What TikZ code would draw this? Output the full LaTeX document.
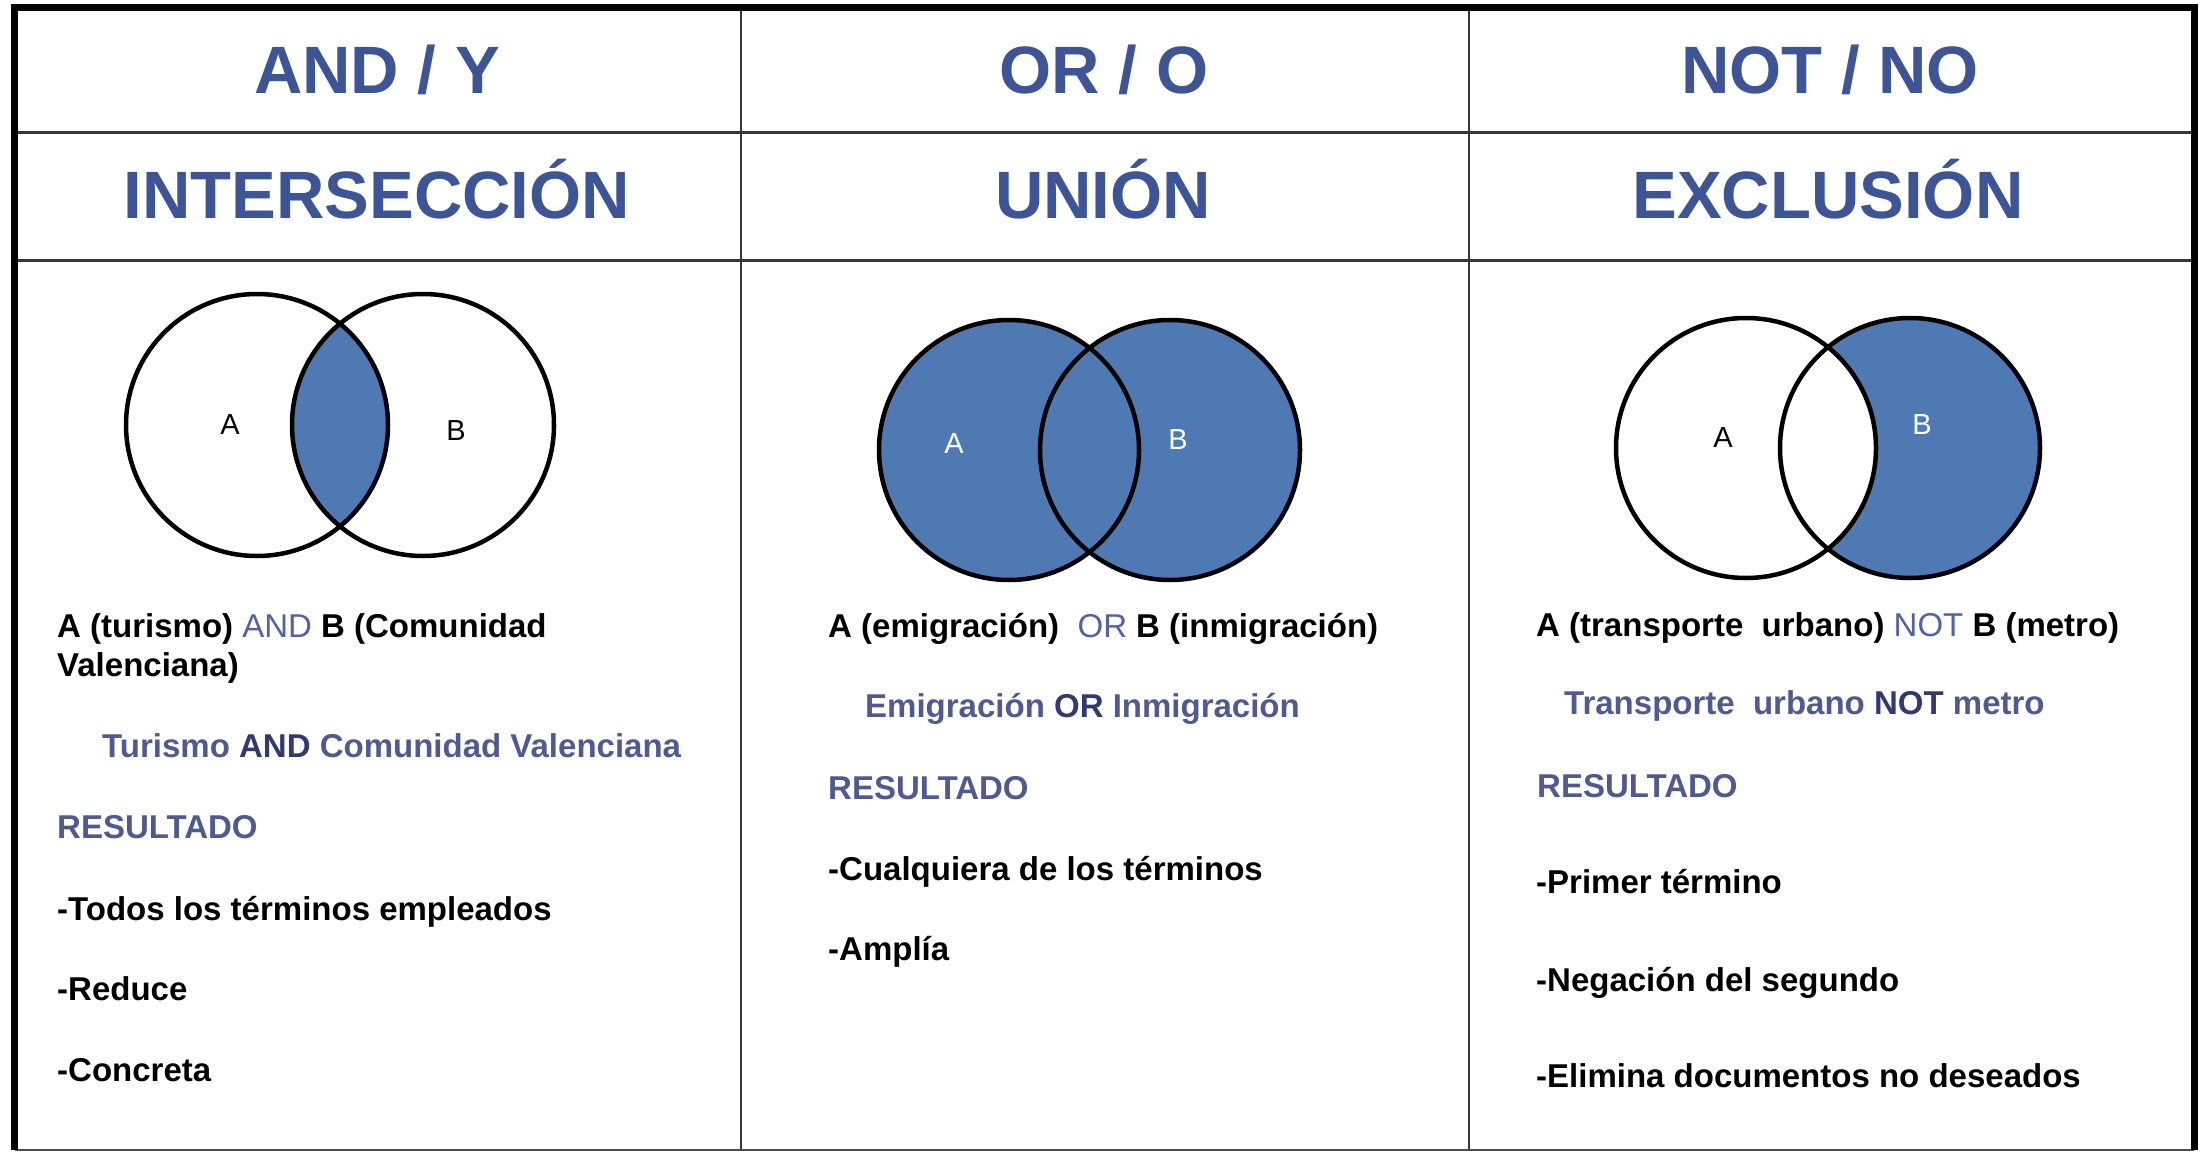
\documentclass[tikz,border=0pt]{standalone}
\usepackage{fontspec}
\setmainfont{Liberation Sans}
\definecolor{headblue}{RGB}{61,84,150}
\definecolor{fillblue}{RGB}{78,121,178}
\definecolor{txtblue}{RGB}{78,90,145}
\definecolor{opblue}{RGB}{82,98,168}
\definecolor{darkop}{RGB}{48,58,112}
\definecolor{rulegray}{RGB}{55,55,55}
\tikzset{
  frameline/.style={line width=7pt, line join=miter, black},
  bottomline/.style={line width=2pt, black!70},
  divline/.style={line width=2.5pt, rulegray},
  rowline/.style={line width=3pt, rulegray},
  headtxt/.style={anchor=base, inner sep=0pt, text=headblue, font=\fontsize{67}{80}\selectfont\bfseries},
  bodytxt/.style={anchor=base west, inner sep=0pt, font=\fontsize{33}{40}\selectfont\bfseries},
  venn/.style={line width=4.5pt, black},
  vennlbl/.style={inner sep=0pt, font=\fontsize{29}{34}\selectfont},
}
\begin{document}
\begin{tikzpicture}[x=1pt,y=-1pt]
\useasboundingbox (0,0) rectangle (2204,1153);
\fill[white] (0,0) rectangle (2204,1153);

% frame and grid
\coordinate (tl) at (14.5,8);
\coordinate (tr) at (2194,8);
\coordinate (bl) at (14.5,1150);
\coordinate (br) at (2194,1150);
\coordinate (d1t) at (741,8);
\coordinate (d1b) at (741,1150);
\coordinate (d2t) at (1469,8);
\coordinate (d2b) at (1469,1150);
\coordinate (r1l) at (14.5,133);
\coordinate (r1r) at (2194,133);
\coordinate (r2l) at (14.5,260);
\coordinate (r2r) at (2194,260);
\draw[divline] (d1t) -- (d1b);
\draw[divline] (d2t) -- (d2b);
\draw[rowline] (r1l) -- (r1r);
\draw[rowline] (r2l) -- (r2r);
\draw[bottomline] (bl) -- (br);
\draw[frameline] (bl) -- (tl) -- (tr) -- (br);

% headings
\node[headtxt] (h1a) at (377,94) {AND / Y};
\node[headtxt] (h2a) at (1104,94) {OR / O};
\node[headtxt] (h3a) at (1830,94) {NOT / NO};
\node[headtxt] (h1b) at (377,218) {INTERSECCIÓN};
\node[headtxt] (h2b) at (1103,218) {UNIÓN};
\node[headtxt] (h3b) at (1828,218) {EXCLUSIÓN};

% Venn 1: intersection
\coordinate (v1a) at (257,425);
\coordinate (v1b) at (423,425);
\begin{scope}
  \clip (v1a) circle[radius=131];
  \fill[fillblue] (v1b) circle[radius=131];
\end{scope}
\draw[venn] (v1a) circle[radius=131];
\draw[venn] (v1b) circle[radius=131];
\node[vennlbl] (l1a) at (230,425) {A};
\node[vennlbl] (l1b) at (456,431) {B};

% Venn 2: union
\coordinate (v2a) at (1009,450);
\coordinate (v2b) at (1170,450);
\fill[fillblue] (v2a) circle[radius=130];
\fill[fillblue] (v2b) circle[radius=130];
\draw[venn] (v2a) circle[radius=130];
\draw[venn] (v2b) circle[radius=130];
\node[vennlbl, text=white] (l2a) at (954,444) {A};
\node[vennlbl, text=white] (l2b) at (1178,440) {B};

% Venn 3: exclusion
\coordinate (v3a) at (1746,448);
\coordinate (v3b) at (1910,448);
\fill[fillblue] (v3b) circle[radius=130];
\begin{scope}
  \clip (v3a) circle[radius=130];
  \fill[white] (v3b) circle[radius=130];
\end{scope}
\draw[venn] (v3a) circle[radius=130];
\draw[venn] (v3b) circle[radius=130];
\node[vennlbl] (l3a) at (1723,438) {A};
\node[vennlbl, text=white] (l3b) at (1922,425) {B};

% column 1 text
\node[bodytxt] (t1a) at (57,637) {A (turismo) \textcolor{opblue}{\mdseries AND} B (Comunidad};
\node[bodytxt] (t1b) at (57,676) {Valenciana)};
\node[bodytxt, text=txtblue] (t1c) at (102,757) {Turismo \textcolor{darkop}{AND} Comunidad Valenciana};
\node[bodytxt, text=txtblue] (t1d) at (57,838) {RESULTADO};
\node[bodytxt] (t1e) at (57,920) {-Todos los términos empleados};
\node[bodytxt] (t1f) at (57,1000) {-Reduce};
\node[bodytxt] (t1g) at (57,1081) {-Concreta};

% column 2 text
\node[bodytxt] (t2a) at (828,637) {A (emigración) \ \textcolor{opblue}{\mdseries OR} B (inmigración)};
\node[bodytxt, text=txtblue] (t2b) at (865,717) {Emigración \textcolor{darkop}{OR} Inmigración};
\node[bodytxt, text=txtblue] (t2c) at (828,799) {RESULTADO};
\node[bodytxt] (t2d) at (828,880) {-Cualquiera de los términos};
\node[bodytxt] (t2e) at (828,960) {-Amplía};

% column 3 text
\node[bodytxt] (t3a) at (1536,636) {A (transporte \ urbano) \textcolor{opblue}{\mdseries NOT} B (metro)};
\node[bodytxt, text=txtblue] (t3b) at (1564,714) {Transporte \ urbano \textcolor{darkop}{NOT} metro};
\node[bodytxt, text=txtblue] (t3c) at (1537,797) {RESULTADO};
\node[bodytxt] (t3d) at (1536,893) {-Primer término};
\node[bodytxt] (t3e) at (1536,991) {-Negación del segundo};
\node[bodytxt] (t3f) at (1536,1087) {-Elimina documentos no deseados};
\end{tikzpicture}
\end{document}
